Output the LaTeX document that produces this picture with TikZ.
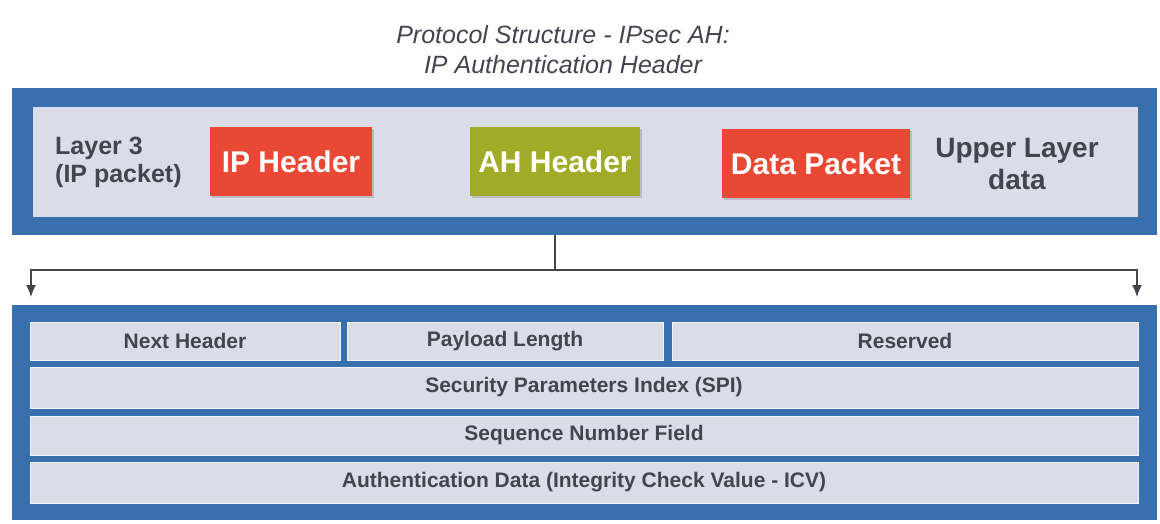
\documentclass[tikz,border=0pt]{standalone}
\usepackage{fontspec}
\setmainfont{Liberation Sans}
\usetikzlibrary{arrows.meta,shadows}

\tikzset{
    field/.style={fill=fieldcolor, draw=white!70!fieldcolor, line width=1pt,
        inner sep=0pt, text=textcolor, font=\fontsize{21}{24}\selectfont\bfseries},
    outerbox/.style={fill=framecolor, inner sep=0pt},
    hdrbox/.style={inner sep=0pt, text=white, minimum height=69pt,
        font=\fontsize{30}{34}\selectfont\bfseries,
        drop shadow={opacity=0.35, shadow xshift=2pt, shadow yshift=-2pt}},
    sidetext/.style={text=textcolor, align=center, inner sep=0pt}
}

\begin{document}
\begin{tikzpicture}[x=1pt,y={(0pt,-1pt)}]
  % Colors
    \definecolor{framecolor}{RGB}{55,112,172}
    \definecolor{fieldcolor}{RGB}{218,220,232}
    \definecolor{redbox}{RGB}{232,72,52}
    \definecolor{greenbox}{RGB}{160,172,40}
    \definecolor{textcolor}{RGB}{68,68,78}

    \useasboundingbox[fill=white] (0,0) rectangle (1160,524);

  % Title
    \node[align=center, text=textcolor, font=\fontsize{25}{30}\selectfont\itshape]
      (title) at (563,50) {Protocol Structure - IPsec AH:\\IP Authentication Header};

  % The IP packet
    \node[outerbox, minimum width=1145pt, minimum height=147pt] (packet) at (584.5,161.5) {};
    \node[field, draw=none, minimum width=1105pt, minimum height=110pt] (packetin) at (585.5,162) {};

    \node[sidetext, align=left, anchor=west, font=\fontsize{25}{28}\selectfont\bfseries]
      (layer) at (55,162) {Layer 3\\(IP packet)};
    \node[hdrbox, fill=redbox, minimum width=162pt] (ip) at (291,161.5) {IP Header};
    \node[hdrbox, fill=greenbox, minimum width=170pt] (ah) at (555,161.5) {AH Header};
    \node[hdrbox, fill=redbox, minimum width=188pt] (data) at (816,164) {Data Packet};
    \node[sidetext, font=\fontsize{28}{32}\selectfont\bfseries]
      (upper) at (1017,164) {Upper Layer\\data};

  % The AH fields
    \node[outerbox, minimum width=1145pt, minimum height=215pt] (ahbox) at (584.5,412.5) {};

    \node[field, minimum width=310pt, minimum height=38pt] (next) at (185,341) {Next Header};
    \node[field, minimum width=316pt, minimum height=38pt] (length) at (505,341) {Payload Length};
    \node[field, minimum width=466pt, minimum height=38pt] (reserved) at (905,341) {Reserved};
    \node[field, minimum width=1108pt, minimum height=41pt] (spi) at (584,387.5)
      {Security Parameters Index (SPI)};
    \node[field, minimum width=1108pt, minimum height=39pt] (seq) at (584,435.5)
      {Sequence Number Field};
    \node[field, minimum width=1108pt, minimum height=41pt] (auth) at (584,482.5)
      {Authentication Data (Integrity Check Value - ICV)};

  % Connector
    \coordinate (split) at (555,270);
    \coordinate (leftend) at (31,297);
    \coordinate (rightend) at (1137,297);

    \draw[textcolor, line width=1.3pt] (ah |- packet.south) -- (split);
    \draw[textcolor, line width=1.3pt, -{Latex[length=12pt,width=10pt]}]
      (split) -| (leftend);
    \draw[textcolor, line width=1.3pt, -{Latex[length=12pt,width=10pt]}]
      (split) -| (rightend);
\end{tikzpicture}
\end{document}
